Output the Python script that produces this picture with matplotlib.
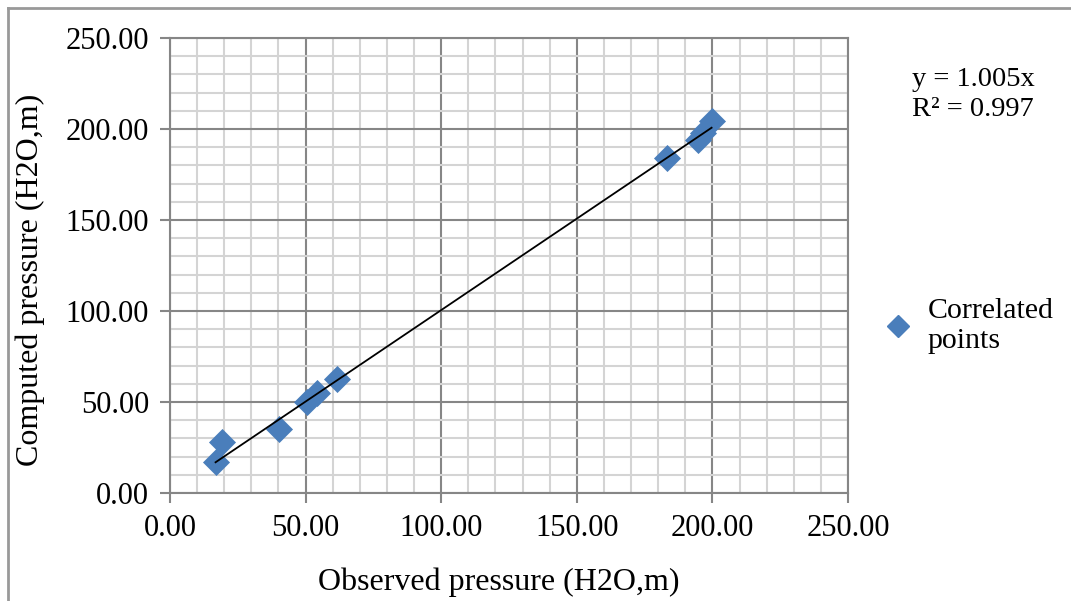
import numpy as np
import matplotlib
matplotlib.use("Agg")
import matplotlib.pyplot as plt
from matplotlib.lines import Line2D
from matplotlib.ticker import MultipleLocator, FormatStrFormatter

plt.rcParams['font.family'] = ['Liberation Serif', 'DejaVu Serif']

# observed vs computed pressure
observed = [16.8, 19.0, 40.3, 50.4, 54.1, 61.5, 183.1, 194.8, 196.6, 199.7]
computed = [17.2, 28.2, 35.0, 50.2, 54.8, 62.6, 184.2, 194.0, 197.6, 204.6]
slope = 1.005
r2 = 0.997

blue = '#4a7ebb'
gmaj = '#868686'
gmin = '#d4d4d4'

fig = plt.figure(figsize=(10.71, 6.01), dpi=100)
ax = fig.add_axes([170/1071, 1-493/601, 678/1071, 455/601])

ax.set_xlim(0, 250)
ax.set_ylim(0, 250)
ax.xaxis.set_major_locator(MultipleLocator(50))
ax.yaxis.set_major_locator(MultipleLocator(50))
ax.xaxis.set_minor_locator(MultipleLocator(10))
ax.yaxis.set_minor_locator(MultipleLocator(10))
ax.xaxis.set_major_formatter(FormatStrFormatter('%.2f'))
ax.yaxis.set_major_formatter(FormatStrFormatter('%.2f'))

ax.grid(which='minor', color=gmin, lw=1.5, zorder=0)
ax.grid(which='major', color=gmaj, lw=1.5, zorder=0)
ax.set_axisbelow(True)

for s in ax.spines:
    ax.spines[s].set_color(gmaj)
    ax.spines[s].set_linewidth(1.5)

ax.tick_params(which='major', direction='out', length=7, width=1.5, color=gmaj,
               labelsize=22, pad=8)
ax.tick_params(which='minor', length=0)

ax.scatter(observed, computed, marker='D', s=190, color=blue, zorder=3, linewidths=0)

xs = np.array([min(observed), max(observed)])
ax.plot(xs, slope * xs, color='black', lw=1.3, zorder=4)

ax.set_xlabel('Observed pressure (H2O,m)', fontsize=23)
ax.set_ylabel('Computed pressure (H2O,m)', fontsize=23)
ax.xaxis.set_label_coords(0.485, -0.163)
ax.yaxis.set_label_coords(-0.184, 0.468)

fig.text(912/1071, 1-67/601, 'y = %.3fx\nR² = %.3f' % (slope, r2), fontsize=20.5,
         va='top', ha='left', linespacing=1.25)

handle = Line2D([], [], marker='D', color=blue, lw=0, markersize=11)
fig.legend([handle], ['Correlated\npoints'], loc='center left',
           bbox_to_anchor=(859/1071, 1-326/601), frameon=False, fontsize=21.5,
           handlelength=0.8, handletextpad=0.6, labelspacing=0)

# chart frame (left and top edges visible)
fig.add_artist(Line2D([8/1071, 8/1071], [0, 1-8/601], color='#999999', lw=2))
fig.add_artist(Line2D([8/1071, 1], [1-8/601, 1-8/601], color='#999999', lw=2))

fig.savefig('out.png', dpi=100)
